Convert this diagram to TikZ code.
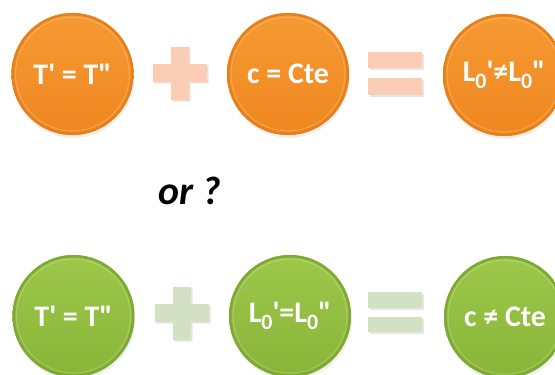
\documentclass[tikz,border=0pt]{standalone}
\usepackage{fontspec}
\setmainfont{Carlito}
\usetikzlibrary{shadows}
\definecolor{orangeTop}{HTML}{F69A33}
\definecolor{orangeBot}{HTML}{EF8720}
\definecolor{orangeRim}{HTML}{E8801A}
\definecolor{orangeSign}{HTML}{FACDB4}
\definecolor{greenTop}{HTML}{9DC84A}
\definecolor{greenBot}{HTML}{88B438}
\definecolor{greenRim}{HTML}{7EA932}
\definecolor{greenSign}{HTML}{D2E1C3}
\newcommand\lowz{\raisebox{-.45ex}{\fontsize{22}{22}\selectfont 0}}
\newcommand\sq{\textquotesingle}
\newcommand\dq{\textquotedbl}

\begin{document}
\begin{tikzpicture}[x=1bp,y=-1bp,font=\bfseries\fontsize{30}{32}\selectfont,
  ball/.style={circle,minimum size=122bp,inner sep=0pt,text=white,
    drop shadow={opacity=.12,shadow xshift=1bp,shadow yshift=-3bp}},
  orangeball/.style={ball,top color=orangeTop,bottom color=orangeBot,
    path picture={\draw[orangeRim,line width=5bp] (path picture bounding box.center) circle (61bp);
      \draw[white,opacity=.22,line width=1bp] (path picture bounding box.center) circle (57bp);}},
  greenball/.style={ball,top color=greenTop,bottom color=greenBot,
    path picture={\draw[greenRim,line width=5bp] (path picture bounding box.center) circle (61bp);
      \draw[white,opacity=.22,line width=1bp] (path picture bounding box.center) circle (57bp);}},
  sign/.style={drop shadow={opacity=.2,shadow xshift=1.5bp,shadow yshift=-1.5bp}}]
\useasboundingbox (0,0) rectangle (555,374);
% top row
\node[orangeball] (t1) at (72.5,74) {T\sq{} = T\dq};
\node[orangeball] (t2) at (288,74) {c = Cte};
\node[orangeball] (t3) at (504,75) {L\lowz\sq≠L\lowz\dq};
\fill[orangeSign,sign] (171,47)--(189,47)--(189,64)--(207,64)--(207,82)--(189,82)--(189,100)--(171,100)--(171,82)--(153,82)--(153,64)--(171,64)--cycle;
\fill[orangeSign,sign] (368,52) rectangle (422,68);
\fill[orangeSign,sign] (368,78) rectangle (422,95);
\node[font=\bfseries\itshape\fontsize{40}{44}\selectfont] (or) at (190,191) {or ?};
% bottom row
\node[greenball] (b1) at (73.5,316) {T\sq{} = T\dq};
\node[greenball] (b2) at (290,316) {L\lowz\sq=L\lowz\dq};
\node[greenball] (b3) at (505,317) {c ≠ Cte};
\fill[greenSign,sign] (173,287)--(191,287)--(191,304)--(209,304)--(209,322)--(191,322)--(191,340)--(173,340)--(173,322)--(155,322)--(155,304)--(173,304)--cycle;
\fill[greenSign,sign] (368,292) rectangle (422,308);
\fill[greenSign,sign] (368,317) rectangle (422,332);
\end{tikzpicture}
\end{document}
